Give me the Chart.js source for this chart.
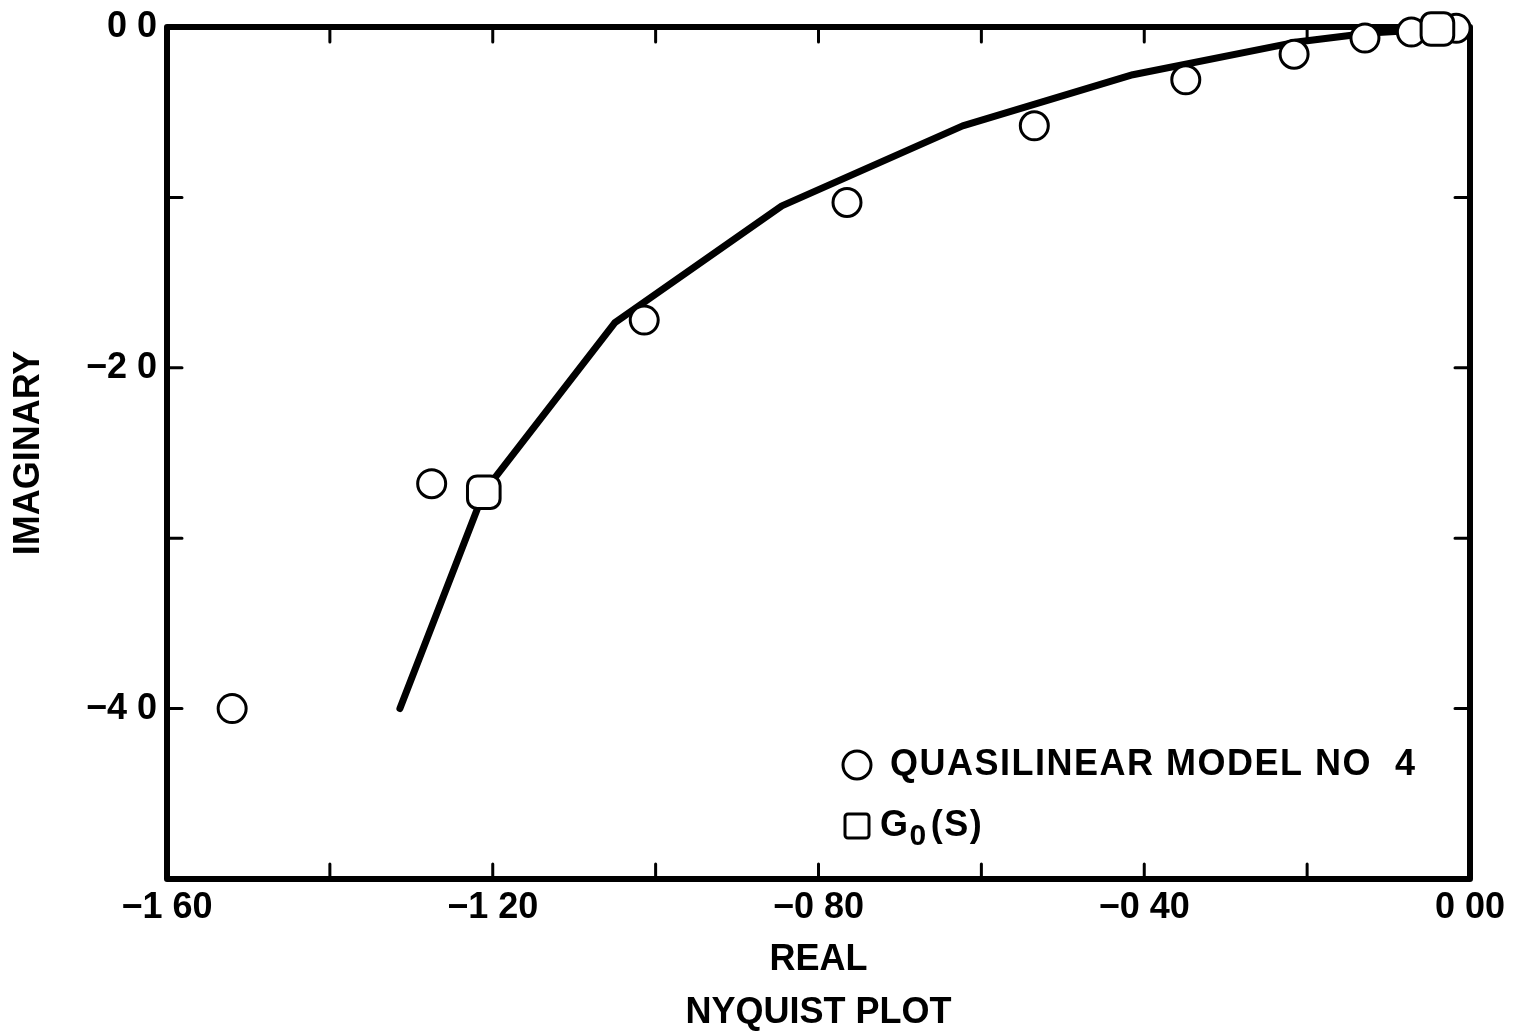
<!DOCTYPE html>
<html lang="en">
<head>
<meta charset="UTF-8">
<title>Nyquist Plot</title>
<script src="https://cdn.jsdelivr.net/npm/chart.js"></script>
<style>
  html, body { margin: 0; padding: 0; background: #fff; }
</style>
</head>
<body>
<canvas id="nyquistChart" width="1528" height="1031"></canvas>
<script>
// quasilinear model no 4 (circles)
const modelReal = [-1.52, -1.275, -1.014, -0.765, -0.535, -0.349, -0.216, -0.129, -0.072, -0.030, -0.017];
const modelImag = [-4.0, -2.68, -1.72, -1.03, -0.58, -0.31, -0.16, -0.065, -0.03, -0.012, -0.008];

// G0(s) curve
const g0Real = [-1.314, -1.211, -1.050, -0.845, -0.623, -0.414, -0.215, -0.123, -0.040, -0.010];
const g0Imag = [-4.0, -2.73, -1.735, -1.05, -0.58, -0.28, -0.09, -0.035, -0.012, -0.004];

// G0(s) marked points (squares)
const g0MarkReal = [-1.211, -0.040];
const g0MarkImag = [-2.73, -0.012];

// tick labels, printed the old way with a gap for the decimal point
const xTickValues = [-1.6, -1.2, -0.8, -0.4, 0];
const xTickLabels = ['\u22121 60', '\u22121 20', '\u22120 80', '\u22120 40', '0 00'];
const yTickValues = [0, -2, -4];
const yTickLabels = ['0 0', '\u22122 0', '\u22124 0'];

const legendLabels = ['QUASILINEAR MODEL NO  4', 'G', '0', '(S)'];

function toPoints(xs, ys) {
    return xs.map((v, i) => ({ x: v, y: ys[i] }));
}

function labelFor(value, values, labels) {
    for (let i = 0; i < values.length; i++) {
        if (Math.abs(values[i] - value) < 1e-6) return labels[i];
    }
    return '';
}

Chart.defaults.font.family = '"Liberation Sans", Arial, sans-serif';
Chart.defaults.color = '#000';

const tickFont = { size: 36, weight: 'bold' };
const titleFont = { size: 36, weight: 'bold' };

// frame and inward ticks on all four sides
const framePlugin = {
    id: 'frame',
    beforeDatasetsDraw(chart) {
        const { ctx, chartArea: a, scales: { x, y } } = chart;
        ctx.save();
        ctx.strokeStyle = '#000';
        ctx.lineWidth = 6;
        ctx.lineJoin = 'round';
        ctx.strokeRect(a.left, a.top, a.right - a.left, a.bottom - a.top);
        ctx.lineWidth = 3;
        ctx.lineCap = 'round';
        const len = 15;
        ctx.beginPath();
        x.ticks.forEach(t => {
            const px = x.getPixelForValue(t.value);
            if (px <= a.left + 2 || px >= a.right - 2) return;
            ctx.moveTo(px, a.bottom); ctx.lineTo(px, a.bottom - len);
            ctx.moveTo(px, a.top); ctx.lineTo(px, a.top + len);
        });
        y.ticks.forEach(t => {
            const py = y.getPixelForValue(t.value);
            if (py <= a.top + 2 || py >= a.bottom - 2) return;
            ctx.moveTo(a.left, py); ctx.lineTo(a.left + len, py);
            ctx.moveTo(a.right, py); ctx.lineTo(a.right - len, py);
        });
        ctx.stroke();
        ctx.restore();
    }
};

// legend box inside the plot, lower right
const legendPlugin = {
    id: 'innerLegend',
    afterDatasetsDraw(chart) {
        const { ctx, chartArea: a } = chart;
        const mx = a.left + 690;
        const y1 = a.top + 738;
        const y2 = a.top + 799;
        ctx.save();
        ctx.strokeStyle = '#000';
        ctx.fillStyle = '#fff';
        ctx.lineWidth = 3;
        ctx.beginPath();
        ctx.arc(mx, y1, 14, 0, Math.PI * 2);
        ctx.fill(); ctx.stroke();
        ctx.beginPath();
        ctx.roundRect(mx - 12, y2 - 12, 24, 24, 3);
        ctx.fill(); ctx.stroke();

        ctx.fillStyle = '#000';
        ctx.textBaseline = 'middle';
        ctx.textAlign = 'left';
        ctx.letterSpacing = '1.5px';
        ctx.font = 'bold 36px "Liberation Sans"';
        ctx.fillText(legendLabels[0], mx + 33, y1);
        let tx = mx + 23;
        ctx.fillText(legendLabels[1], tx, y2);
        tx += ctx.measureText(legendLabels[1]).width;
        ctx.font = 'bold 30px "Liberation Sans"';
        ctx.fillText(legendLabels[2], tx, y2 + 11);
        tx += ctx.measureText(legendLabels[2]).width + 3;
        ctx.font = 'bold 36px "Liberation Sans"';
        ctx.fillText(legendLabels[3], tx, y2);
        ctx.restore();
    }
};

const chart = new Chart(document.getElementById('nyquistChart'), {
    type: 'scatter',
    data: {
        datasets: [
            {
                label: 'QUASILINEAR MODEL NO 4',
                data: toPoints(modelReal, modelImag),
                pointStyle: 'circle',
                pointRadius: 14,
                pointBorderWidth: 3,
                pointBackgroundColor: '#fff',
                pointBorderColor: '#000',
                clip: false,
                order: 1
            },
            {
                label: 'G0(S) points',
                data: toPoints(g0MarkReal, g0MarkImag),
                pointStyle: 'rectRounded',
                pointRadius: 19,
                pointBorderWidth: 3,
                pointBackgroundColor: '#fff',
                pointBorderColor: '#000',
                clip: false,
                order: 0
            },
            {
                label: 'G0(S)',
                data: toPoints(g0Real, g0Imag),
                showLine: true,
                borderColor: '#000',
                borderWidth: 7,
                borderJoinStyle: 'round',
                borderCapStyle: 'round',
                pointRadius: 0,
                tension: 0,
                clip: false,
                order: 2
            }
        ]
    },
    options: {
        responsive: false,
        animation: false,
        devicePixelRatio: 1,
        layout: { padding: { top: 27, right: 58, left: 0, bottom: 0 } },
        plugins: {
            legend: { display: false },
            tooltip: { enabled: false },
            title: {
                display: true,
                position: 'bottom',
                fullSize: false,
                text: 'NYQUIST PLOT',
                color: '#000',
                font: { size: 36, weight: 'bold', lineHeight: 1.0 },
                padding: { top: 0, bottom: 0 }
            }
        },
        scales: {
            x: {
                type: 'linear',
                min: -1.6,
                max: 0,
                afterFit: s => {
                    s.height = 116;
                    s.paddingLeft = 0;
                    s.paddingRight = 0;
                },
                grid: { display: false, drawTicks: false },
                border: { display: false },
                ticks: {
                    stepSize: 0.2,
                    autoSkip: false,
                    maxRotation: 0,
                    padding: 7,
                    color: '#000',
                    font: tickFont,
                    callback: v => labelFor(v, xTickValues, xTickLabels)
                },
                title: {
                    display: true,
                    text: 'REAL',
                    color: '#000',
                    font: titleFont,
                    padding: { top: 0, bottom: 13 }
                }
            },
            y: {
                type: 'linear',
                min: -5,
                max: 0,
                afterFit: s => {
                    s.width = 167;
                    s.paddingTop = 0;
                    s.paddingBottom = 0;
                },
                grid: { display: false, drawTicks: false },
                border: { display: false },
                ticks: {
                    stepSize: 1,
                    autoSkip: false,
                    padding: 10,
                    color: '#000',
                    font: tickFont,
                    callback: v => labelFor(v, yTickValues, yTickLabels)
                },
                title: {
                    display: true,
                    text: 'IMAGINARY',
                    color: '#000',
                    font: titleFont,
                    padding: { top: 7, bottom: 0 }
                }
            }
        }
    },
    plugins: [framePlugin, legendPlugin]
});
</script>
</body>
</html>
